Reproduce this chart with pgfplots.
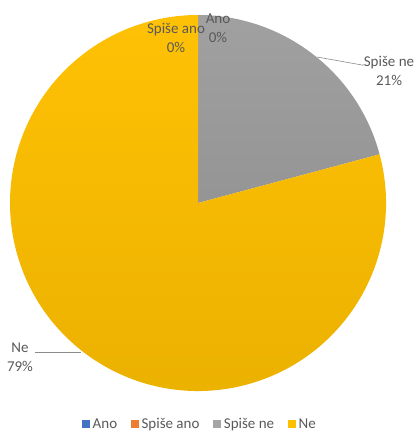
\documentclass[border=0pt]{standalone}
\usepackage{pgfplots}
\usepackage{pgfplotstable}
\usepackage{fontspec}
\setmainfont{Carlito}
\pgfplotsset{compat=1.18}
\definecolor{cAno}{HTML}{4472C4}
\definecolor{cSA}{HTML}{ED7D31}
\definecolor{cSN}{HTML}{A5A5A5}
\definecolor{cNe}{HTML}{FFC000}
\definecolor{txt}{HTML}{595959}
\pgfplotstableread[col sep=comma]{
label,value
Ano,0
Spiše ano,0
Spiše ne,5
Ne,19
}\piedata
\begin{document}
\begin{tikzpicture}
\pgfplotstablegetelem{0}{value}\of\piedata \let\vA\pgfplotsretval
\pgfplotstablegetelem{1}{value}\of\piedata \let\vB\pgfplotsretval
\pgfplotstablegetelem{2}{value}\of\piedata \let\vC\pgfplotsretval
\pgfplotstablegetelem{3}{value}\of\piedata \let\vD\pgfplotsretval
\pgfmathsetmacro{\tot}{\vA+\vB+\vC+\vD}
\pgfmathsetmacro{\aA}{90-360*\vA/\tot}
\pgfmathsetmacro{\aB}{\aA-360*\vB/\tot}
\pgfmathsetmacro{\aC}{\aB-360*\vC/\tot}
\pgfmathsetmacro{\aD}{\aC-360*\vD/\tot}
\pgfmathsetmacro{\xC}{198+188*cos(\aB)}
\pgfmathsetmacro{\yC}{228+188*sin(\aB)}
\pgfmathsetmacro{\xD}{198+188*cos(\aC)}
\pgfmathsetmacro{\yD}{228+188*sin(\aC)}
\begin{axis}[
  x=1pt, y=1pt,
  xmin=0, xmax=416, ymin=0, ymax=431,
  hide axis, clip=false,
  legend columns=4,
  legend style={at={(axis cs:200,7)}, anchor=center, draw=none, fill=none,
    font=\fontsize{15}{18}\selectfont, text=txt, inner sep=0pt,
    /tikz/every odd column/.append style={column sep=1pt},
    /tikz/every even column/.append style={column sep=12pt}},
]
\addlegendimage{legend image code/.code={\fill[cAno] (0pt,-3.5pt) rectangle (7pt,3.5pt);}}
\addlegendentry{Ano}
\addlegendimage{legend image code/.code={\fill[cSA] (0pt,-3.5pt) rectangle (7pt,3.5pt);}}
\addlegendentry{Spiše ano}
\addlegendimage{legend image code/.code={\fill[cSN] (0pt,-3.5pt) rectangle (7pt,3.5pt);}}
\addlegendentry{Spiše ne}
\addlegendimage{legend image code/.code={\fill[cNe] (0pt,-3.5pt) rectangle (7pt,3.5pt);}}
\addlegendentry{Ne}
% slices
\path[top color=cSN!105!white, bottom color=cSN!90!black]
  (axis cs:198,228) -- (axis cs:{\xC},{\yC}) arc[start angle=\aB, end angle=\aC, radius=188pt] -- cycle;
\path[top color=cNe!98!white, bottom color=cNe!92!black]
  (axis cs:198,228) -- (axis cs:{\xD},{\yD}) arc[start angle=\aC, end angle=\aD, radius=188pt] -- cycle;
% leader lines
\draw[txt!70!white, line width=0.6pt] (axis cs:317,374) -- (axis cs:362,366) -- (axis cs:364,366);
\draw[txt!70!white, line width=0.6pt] (axis cs:35,79) -- (axis cs:81,79);
% labels
\node[align=center, text=txt, font=\fontsize{15}{19}\selectfont, inner sep=0pt] at (axis cs:218,403) {Ano\\0\%};
\node[align=center, text=txt, font=\fontsize{15}{19}\selectfont, inner sep=0pt] at (axis cs:176,393) {Spiše ano\\0\%};
\node[align=center, text=txt, font=\fontsize{15}{19}\selectfont, inner sep=0pt] at (axis cs:389,360.5) {Spiše ne\\21\%};
\node[align=center, text=txt, font=\fontsize{15}{19}\selectfont, inner sep=0pt] at (axis cs:20,73.5) {Ne\\79\%};
\end{axis}
\pgfresetboundingbox
\path (current axis.south west) rectangle (current axis.north east);
\end{tikzpicture}
\end{document}
